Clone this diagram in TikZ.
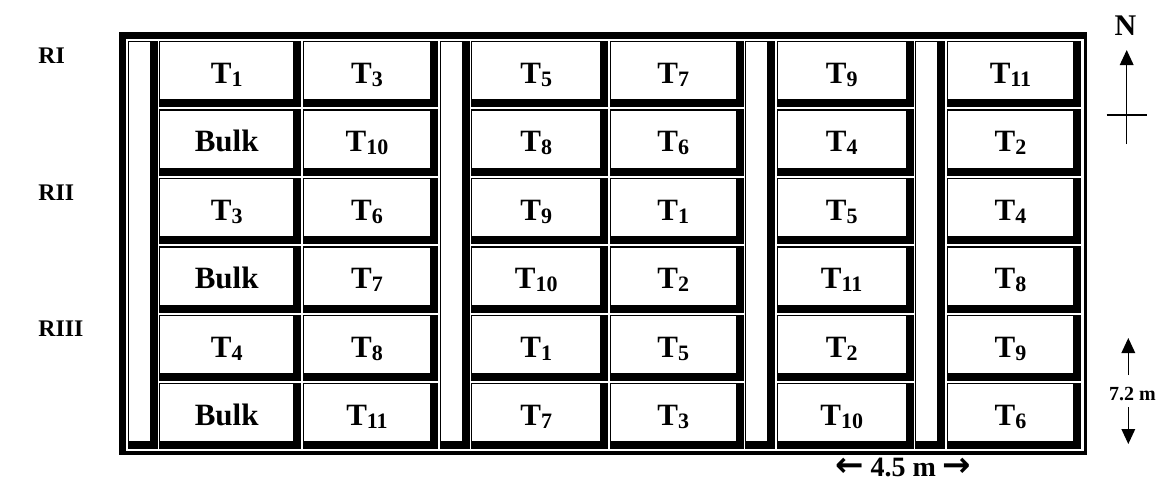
\documentclass[tikz,border=0pt]{standalone}
\usepackage{fontspec}
\setmainfont{Liberation Serif}
\newfontfamily\arrowfont{DejaVu Sans}
\usetikzlibrary{arrows.meta}

% a table cell: thin top/left rule, thick bottom/right rule
\newcommand{\tcell}[4]{%
  \fill[black] (#1,#2) rectangle (#3,#4);
  \fill[white] ({#1+1.4},{#2+1.4}) rectangle ({#3-8},{#4-8});
}
\newcommand{\Tsub}[1]{T\raisebox{-1.5pt}{\fontsize{11}{11}\selectfont #1}}
\newcommand{\bigarrow}[1]{{\arrowfont\bfseries\fontsize{17}{18}\selectfont #1}}

\begin{document}
\begin{tikzpicture}[x=0.5pt,y=-0.5pt,
  celltext/.style={font=\fontsize{15.5}{18}\bfseries\selectfont, anchor=base, inner sep=0pt},
  rowlabel/.style={font=\fontsize{11.9}{14}\bfseries\selectfont, anchor=base west, inner sep=0pt},
  northlabel/.style={font=\fontsize{15}{18}\bfseries\selectfont, anchor=base, inner sep=0pt},
  scalelabel/.style={font=\fontsize{10}{12}\bfseries\selectfont, anchor=base, inner sep=0pt},
  widthlabel/.style={font=\fontsize{14}{16}\bfseries\selectfont, anchor=base, inner sep=0pt},
  thinline/.style={line width=0.7pt},
  arrowline/.style={line width=0.7pt, -{Triangle[length=7.5pt,width=6.8pt]}}
]
\useasboundingbox (0,0) rectangle (1162,484);

% outer frame
\fill[black] (119,32) rectangle (1087,454.5);
\fill[white] (126,39) rectangle (1083.5,451);

% path columns
\foreach \a/\b in {128/157.5, 439.5/470, 745/775, 915/945} {
  \tcell{\a}{41}{\b}{449.3}
}
% plot cells
\foreach \a/\b in {159/301, 302.5/438, 471/608, 609.5/743.5, 776.5/913.5, 946.5/1081} {
  \foreach \r in {0,...,5} {
    \tcell{\a}{41+68.4*\r}{\b}{41+68.4*\r+66.3}
  }
}

% cell texts (baseline = top + 42.5)
\def\ya{83.5}
\def\yb{151.9}
\def\yc{220.3}
\def\yd{288.7}
\def\ye{357.1}
\def\yf{425.5}
\def\xa{226.7}
\def\xb{367}
\def\xc{536.2}
\def\xd{673.2}
\def\xe{841.7}
\def\xf{1010.5}

\node[celltext] (a1) at (\xa,\ya) {\Tsub{1}};
\node[celltext] (a2) at (\xb,\ya) {\Tsub{3}};
\node[celltext] (a3) at (\xc,\ya) {\Tsub{5}};
\node[celltext] (a4) at (\xd,\ya) {\Tsub{7}};
\node[celltext] (a5) at (\xe,\ya) {\Tsub{9}};
\node[celltext] (a6) at (\xf,\ya) {\Tsub{11}};

\node[celltext] (b1) at (\xa,\yb) {Bulk};
\node[celltext] (b2) at (\xb,\yb) {\Tsub{10}};
\node[celltext] (b3) at (\xc,\yb) {\Tsub{8}};
\node[celltext] (b4) at (\xd,\yb) {\Tsub{6}};
\node[celltext] (b5) at (\xe,\yb) {\Tsub{4}};
\node[celltext] (b6) at (\xf,\yb) {\Tsub{2}};

\node[celltext] (c1) at (\xa,\yc) {\Tsub{3}};
\node[celltext] (c2) at (\xb,\yc) {\Tsub{6}};
\node[celltext] (c3) at (\xc,\yc) {\Tsub{9}};
\node[celltext] (c4) at (\xd,\yc) {\Tsub{1}};
\node[celltext] (c5) at (\xe,\yc) {\Tsub{5}};
\node[celltext] (c6) at (\xf,\yc) {\Tsub{4}};

\node[celltext] (d1) at (\xa,\yd) {Bulk};
\node[celltext] (d2) at (\xb,\yd) {\Tsub{7}};
\node[celltext] (d3) at (\xc,\yd) {\Tsub{10}};
\node[celltext] (d4) at (\xd,\yd) {\Tsub{2}};
\node[celltext] (d5) at (\xe,\yd) {\Tsub{11}};
\node[celltext] (d6) at (\xf,\yd) {\Tsub{8}};

\node[celltext] (e1) at (\xa,\ye) {\Tsub{4}};
\node[celltext] (e2) at (\xb,\ye) {\Tsub{8}};
\node[celltext] (e3) at (\xc,\ye) {\Tsub{1}};
\node[celltext] (e4) at (\xd,\ye) {\Tsub{5}};
\node[celltext] (e5) at (\xe,\ye) {\Tsub{2}};
\node[celltext] (e6) at (\xf,\ye) {\Tsub{9}};

\node[celltext] (f1) at (\xa,\yf) {Bulk};
\node[celltext] (f2) at (\xb,\yf) {\Tsub{11}};
\node[celltext] (f3) at (\xc,\yf) {\Tsub{7}};
\node[celltext] (f4) at (\xd,\yf) {\Tsub{3}};
\node[celltext] (f5) at (\xe,\yf) {\Tsub{10}};
\node[celltext] (f6) at (\xf,\yf) {\Tsub{6}};

% replication labels
\node[rowlabel] (r1) at (38,63) {RI};
\node[rowlabel] (r2) at (38,200) {RII};
\node[rowlabel] (r3) at (38,336.5) {RIII};

% north arrow
\node[northlabel] (N) at (1125.5,35) {N};
\coordinate (nb) at (1126.7,144);
\coordinate (nt) at (1126.7,50);
\coordinate (cl) at (1106.7,115);
\coordinate (cr) at (1146.7,115);
\draw[arrowline] (nb) -- (nt);
\draw[thinline] (cl) -- (cr);

% 7.2 m scale
\node[scalelabel] (len) at (1132.5,400) {7.2 m};
\coordinate (ub) at (1128.3,375);
\coordinate (ut) at (1128.3,338);
\coordinate (db) at (1128.3,407);
\coordinate (dt) at (1128.3,444);
\draw[arrowline] (ub) -- (ut);
\draw[arrowline] (db) -- (dt);

% 4.5 m scale
\node[widthlabel] (wid) at (903.3,476) {\bigarrow{←} 4.5 m \bigarrow{→}};
\end{tikzpicture}
\end{document}
